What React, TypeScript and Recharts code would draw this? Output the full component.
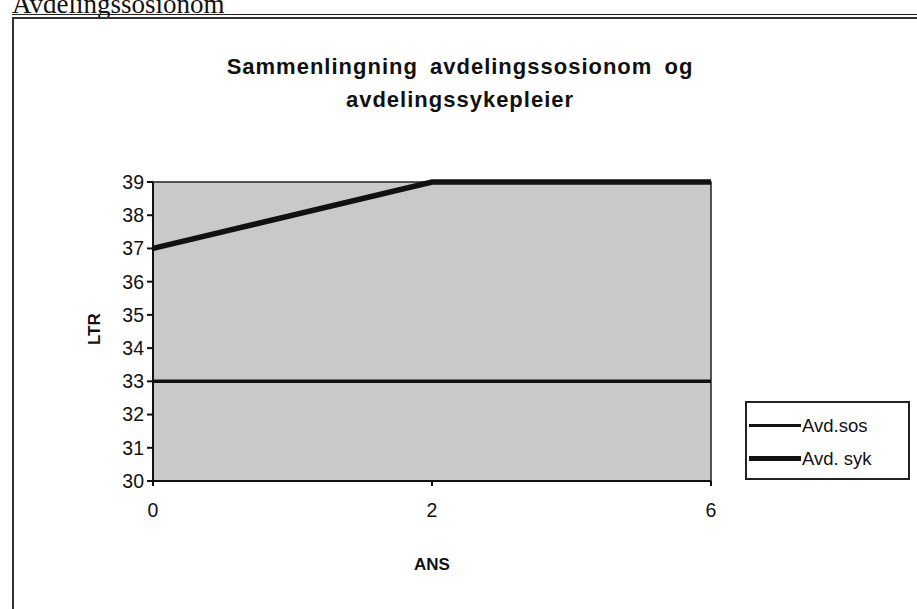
import React from 'react';
import { LineChart, Line, XAxis, YAxis, ReferenceArea } from 'recharts';

const ansCategories = ['0', '2', '6'];
const avdSos = [33, 33, 33];
const avdSyk = [37, 39, 39];
const yTicks = [30, 31, 32, 33, 34, 35, 36, 37, 38, 39];

const data = ansCategories.map((ans, i) => ({ ans, sos: avdSos[i], syk: avdSyk[i] }));

const font = '"Liberation Sans", Arial, sans-serif';

function LegendBox() {
  const items = [
    { label: 'Avd.sos', width: 3 },
    { label: 'Avd. syk', width: 5 },
  ];
  return (
    <div style={{ position: 'absolute', left: 745, top: 401, width: 165, height: 79, border: '2px solid #222', background: '#fff', boxSizing: 'border-box', paddingTop: 6 }}>
      {items.map((it) => (
        <div key={it.label} style={{ display: 'flex', alignItems: 'center', height: 33 }}>
          <div style={{ width: 52, height: it.width, background: '#111', marginLeft: 2 }} />
          <span style={{ fontFamily: font, fontSize: 18.5, color: '#111', marginLeft: 1 }}>{it.label}</span>
        </div>
      ))}
    </div>
  );
}

export default function App() {
  return (
    <div style={{ position: 'fixed', left: 0, top: 0, width: 917, height: 609, overflow: 'hidden', background: '#fff' }}>
      {/* scanned page header, cut at the top edge as in the scan */}
      <div style={{ position: 'absolute', left: 12, top: -11, fontFamily: '"Liberation Serif", "Times New Roman", serif', fontSize: 27, color: '#111' }}>
        Avdelingssosionom
      </div>
      <div style={{ position: 'absolute', left: 12, top: 14, width: 905, height: 1, background: '#222' }} />
      <div style={{ position: 'absolute', left: 12, top: 17, width: 905, height: 2, background: '#333' }} />
      <div style={{ position: 'absolute', left: 12, top: 17, width: 2, height: 592, background: '#333' }} />

      <div style={{ position: 'absolute', left: 160, top: 50, width: 600, textAlign: 'center', fontFamily: font, fontWeight: 'bold', fontSize: 22, letterSpacing: 1, wordSpacing: 5, lineHeight: '33px', color: '#111' }}>
        Sammenlingning avdelingssosionom og
        <br />
        avdelingssykepleier
      </div>
      <div style={{ position: 'absolute', left: 80, top: 320, transform: 'rotate(-90deg)', transformOrigin: 'center', fontFamily: font, fontWeight: 'bold', fontSize: 17, color: '#111', width: 30, textAlign: 'center' }}>
        LTR
      </div>
      <div style={{ position: 'absolute', left: 392, top: 555, width: 80, textAlign: 'center', fontFamily: font, fontWeight: 'bold', fontSize: 17, color: '#111' }}>
        ANS
      </div>

      <div style={{ position: 'absolute', left: 0, top: 0 }}>
        <LineChart width={917} height={609} data={data} margin={{ top: 182, right: 206, bottom: 98, left: 93 }}>
          <XAxis
            dataKey="ans"
            type="category"
            height={30}
            stroke="#111"
            strokeWidth={2}
            tickSize={5}
            tickMargin={17}
            tick={{ fontFamily: font, fontSize: 19.5, fill: '#111' }}
            padding={{ left: 0, right: 0 }}
          />
          <YAxis
            type="number"
            domain={[30, 39]}
            ticks={yTicks}
            interval={0}
            width={60}
            stroke="#111"
            strokeWidth={2}
            tickSize={6}
            tickMargin={3}
            tick={{ fontFamily: font, fontSize: 19.5, fill: '#111' }}
          />
          <ReferenceArea x1="0" x2="6" y1={30} y2={39} fill="#c9c9c9" fillOpacity={1} stroke="#222" strokeWidth={1.5} />
          <Line dataKey="sos" name="Avd.sos" stroke="#111" strokeWidth={3.5} dot={false} isAnimationActive={false} />
          <Line dataKey="syk" name="Avd. syk" stroke="#111" strokeWidth={5.5} dot={false} isAnimationActive={false} />
        </LineChart>
      </div>
      <LegendBox />
    </div>
  );
}
